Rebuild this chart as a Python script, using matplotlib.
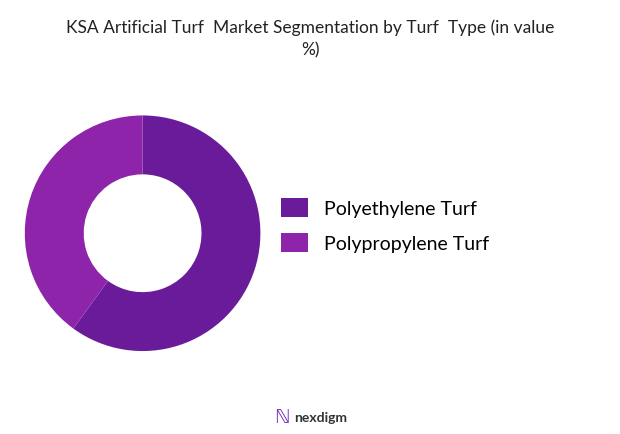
import matplotlib.pyplot as plt
from matplotlib.patches import Patch

labels = ["Polyethylene Turf", "Polypropylene Turf"]
shares = [60, 40]
colors = ["#6A1B9A", "#8E24AA"]

plt.rcParams['font.family'] = ['Lato', 'DejaVu Sans']

fig = plt.figure(figsize=(6.2, 4.35), dpi=100)
fig.text(0.5, 0.955, "KSA Artificial Turf  Market Segmentation by Turf  Type (in value\n%)",
         ha='center', va='top', fontsize=12.5, color='#222222', linespacing=1.5)

ax = fig.add_axes([0.04, 0.19, 0.38, 0.543])
ax.pie(shares, colors=colors, startangle=90, counterclock=False,
       wedgeprops=dict(width=0.5, edgecolor='none'))
ax.set_xlim(-1, 1)
ax.set_ylim(-1, 1)
ax.set_aspect('equal')

handles = [Patch(facecolor=c, label=l) for c, l in zip(colors, labels)]
fig.legend(handles=handles, loc='center left', bbox_to_anchor=(0.425, 0.48),
           frameon=False, fontsize=14, handlelength=1.4, handleheight=1.1,
           labelspacing=0.8, handletextpad=0.8)

fig.text(0.455, 0.04, "\u2115", ha='center', va='center', fontsize=14, color='#7B2CBF')
fig.text(0.475, 0.04, "nexdigm", ha='left', va='center', fontsize=10,
         color='#333333', fontweight='bold')

fig.savefig("out.png", dpi=100, facecolor='white')
